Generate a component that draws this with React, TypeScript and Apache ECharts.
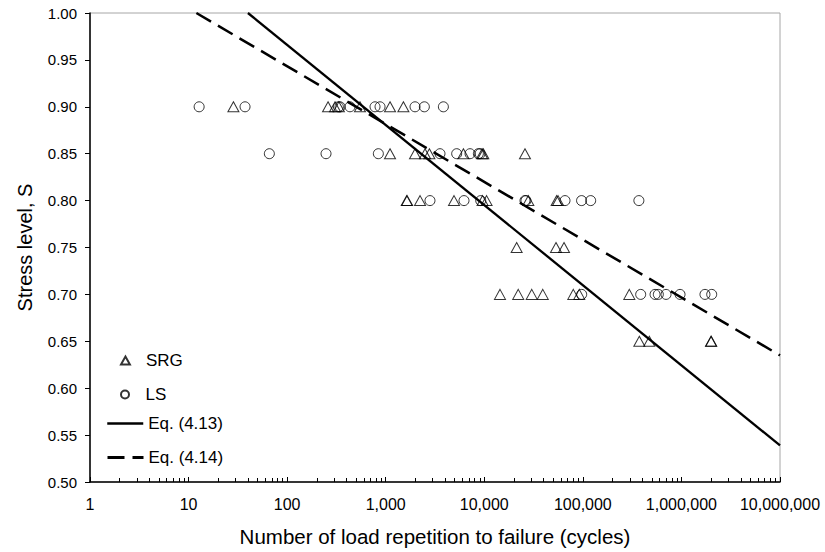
import React, { useEffect, useRef } from "react";
import * as echarts from "echarts";

// SRG specimens (triangles): cycles to failure and stress level
const srgCycles = [
  28.5, 260, 306, 335, 548, 1106, 1511,
  1106, 1983, 2505, 2773, 6138, 9500, 9775, 25870,
  1634, 1650, 2230, 4931, 9600, 10550, 27990, 54200, 56000,
  21300, 53400, 64400,
  14430, 22100, 30300, 39200, 80000, 92000, 296000,
  374000, 472000, 1995000, 2005000,
];
const srgStress = [
  0.9, 0.9, 0.9, 0.9, 0.9, 0.9, 0.9,
  0.85, 0.85, 0.85, 0.85, 0.85, 0.85, 0.85, 0.85,
  0.8, 0.8, 0.8, 0.8, 0.8, 0.8, 0.8, 0.8, 0.8,
  0.75, 0.75, 0.75,
  0.7, 0.7, 0.7, 0.7, 0.7, 0.7, 0.7,
  0.65, 0.65, 0.65, 0.65,
];

// LS specimens (circles)
const lsCycles = [
  12.8, 37.4, 331, 344, 434, 779, 876, 1983, 2466, 3846,
  66, 248, 842, 3553, 5248, 7166, 8710, 9057,
  2812, 6227, 9200, 25870, 26500, 65900, 97000, 120000, 370000,
  97300, 386000, 540000, 583000, 698000, 968000, 1733000, 2028000,
];
const lsStress = [
  0.9, 0.9, 0.9, 0.9, 0.9, 0.9, 0.9, 0.9, 0.9, 0.9,
  0.85, 0.85, 0.85, 0.85, 0.85, 0.85, 0.85, 0.85,
  0.8, 0.8, 0.8, 0.8, 0.8, 0.8, 0.8, 0.8, 0.8,
  0.7, 0.7, 0.7, 0.7, 0.7, 0.7, 0.7, 0.7,
];

// Fitted lines (end points)
const eq413Cycles = [40, 10000000];
const eq413Stress = [1.0, 0.539];
const eq414Cycles = [12, 10000000];
const eq414Stress = [1.0, 0.635];

const xTickValues = [1, 10, 100, 1000, 10000, 100000, 1000000, 10000000];
const yMin = 0.5;
const yMax = 1.0;
const yStep = 0.05;

const seriesNames = ["SRG", "LS", "Eq. (4.13)", "Eq. (4.14)"];

const zip = (a: number[], b: number[]) => a.map((v, i) => [v, b[i]]);

const FONT = "Liberation Sans, Arial, sans-serif";
const TRI_ICON = "path://M5,0 L10,9 L0,9 Z";
const CIRCLE_ICON = "path://M0,5 A5,5 0 1,1 10,5 A5,5 0 1,1 0,5 Z";
const DASH = [17, 8];

export default function App() {
  const ref = useRef<HTMLDivElement>(null);
  useEffect(() => {
    if (!ref.current) return;
    const chart = echarts.init(ref.current, null, { renderer: "svg" });
    const legendBase = {
      orient: "vertical" as const,
      left: 106,
      itemGap: 0,
      itemWidth: 36,
      itemHeight: 14,
      symbolKeepAspect: true,
      textStyle: { fontFamily: FONT, fontSize: 17, color: "#000" },
      padding: 0,
    };
    const markerLegend = {
      ...legendBase,
      left: 120,
      itemWidth: 9,
      itemHeight: 8,
      textStyle: { fontFamily: FONT, fontSize: 17, color: "#000", padding: [0, 0, 0, 11] },
    };
    chart.setOption({
      animation: false,
      backgroundColor: "#fff",
      grid: {
        left: 90,
        right: 45,
        top: 13,
        bottom: 69,
        show: true,
        borderColor: "#a6a6a6",
        borderWidth: 1,
      },
      xAxis: {
        type: "log",
        logBase: 10,
        min: xTickValues[0],
        max: xTickValues[xTickValues.length - 1],
        name: "Number of load repetition to failure (cycles)",
        nameLocation: "middle",
        nameGap: 44,
        nameTextStyle: { fontFamily: FONT, fontSize: 20.5, color: "#000" },
        axisLine: { show: true, lineStyle: { color: "#000", width: 1.5 } },
        axisTick: { show: true, inside: true, length: 5, lineStyle: { color: "#000" } },
        minorTick: { show: true, splitNumber: 9, length: 4, lineStyle: { color: "#000" } },
        axisLabel: {
          fontFamily: FONT,
          fontSize: 16,
          color: "#000",
          margin: 14,
          formatter: (v: number) => Math.round(v).toLocaleString("en-US"),
        },
        splitLine: { show: false },
      },
      yAxis: {
        type: "value",
        min: yMin,
        max: yMax,
        interval: yStep,
        name: "Stress level, S",
        nameLocation: "middle",
        nameGap: 55,
        nameTextStyle: { fontFamily: FONT, fontSize: 20, color: "#000" },
        axisLine: { show: true, lineStyle: { color: "#000", width: 1.5 } },
        axisTick: { show: true, inside: false, length: 5, lineStyle: { color: "#000" } },
        axisLabel: {
          fontFamily: FONT,
          fontSize: 15,
          color: "#000",
          margin: 13,
          formatter: (v: number) => v.toFixed(2),
        },
        splitLine: { show: false },
      },
      legend: [
        {
          ...markerLegend,
          top: 352,
          data: [{ name: seriesNames[0], icon: TRI_ICON }],
        },
        {
          ...markerLegend,
          top: 386,
          data: [{ name: seriesNames[1], icon: CIRCLE_ICON }],
        },
        {
          ...legendBase,
          top: 415,
          lineStyle: { width: 2.5 },
          data: [{ name: seriesNames[2], itemStyle: { opacity: 0 }, lineStyle: { width: 2.5 } }],
        },
        {
          ...legendBase,
          top: 449,
          lineStyle: { width: 3, type: DASH },
          data: [{ name: seriesNames[3], itemStyle: { opacity: 0 } }],
        },
      ],
      series: [
        {
          name: seriesNames[0],
          type: "scatter",
          symbol: "triangle",
          symbolSize: [11, 10],
          itemStyle: { color: "rgba(255,255,255,0)", borderColor: "#000", borderWidth: 1 },
          data: zip(srgCycles, srgStress),
          z: 3,
        },
        {
          name: seriesNames[1],
          type: "scatter",
          symbol: "circle",
          symbolSize: 10,
          itemStyle: { color: "rgba(255,255,255,0)", borderColor: "#000", borderWidth: 1 },
          data: zip(lsCycles, lsStress),
          z: 3,
        },
        {
          name: seriesNames[2],
          type: "line",
          symbol: "none",
          showSymbol: false,
          lineStyle: { color: "#000", width: 2.3, type: "solid" },
          itemStyle: { color: "#000" },
          data: zip(eq413Cycles, eq413Stress),
          z: 2,
        },
        {
          name: seriesNames[3],
          type: "line",
          symbol: "none",
          showSymbol: false,
          lineStyle: { color: "#000", width: 2.5, type: DASH },
          itemStyle: { color: "#000" },
          data: zip(eq414Cycles, eq414Stress),
          z: 2,
        },
      ],
    });
    return () => chart.dispose();
  }, []);
  return <div ref={ref} style={{ width: 825, height: 552, position: "absolute", left: 0, top: 0 }} />;
}
